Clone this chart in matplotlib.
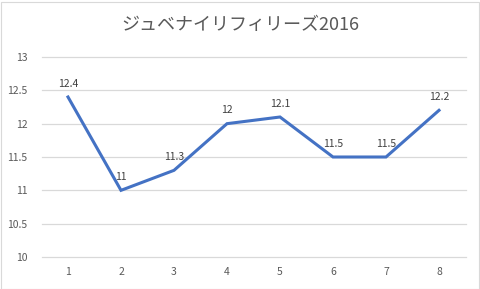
import matplotlib.pyplot as plt
from matplotlib.patches import Rectangle

plt.rcParams['font.family'] = ['Noto Sans CJK JP', 'DejaVu Sans']

categories = ['1', '2', '3', '4', '5', '6', '7', '8']
values = [12.4, 11, 11.3, 12, 12.1, 11.5, 11.5, 12.2]
labels = ['12.4', '11', '11.3', '12', '12.1', '11.5', '11.5', '12.2']
yticks = [10, 10.5, 11, 11.5, 12, 12.5, 13]
title = 'ジュベナイリフィリーズ2016'

text_color = '#595959'
line_color = '#4472C4'
grid_color = '#D9D9D9'

fig = plt.figure(figsize=(4.81, 2.89), dpi=100)
W, H = 481, 289
ax = fig.add_axes([41.5 / W, 1 - 257 / H, (465.5 - 41.5) / W, 200 / H])

x = list(range(len(categories)))
ax.plot(x, values, color=line_color, linewidth=2.2, solid_joinstyle='miter', zorder=3)

for xi, v, lab in zip(x, values, labels):
    ax.annotate(lab, (xi, v), xytext=(0, 6), textcoords='offset points',
                ha='center', va='bottom', fontsize=7.5, color='#404040')

ax.set_xlim(-0.5, len(categories) - 0.5)
ax.set_ylim(10, 13)
ax.set_xticks(x)
ax.set_xticklabels(categories)
ax.set_yticks(yticks)
ax.set_yticklabels([f'{t:g}' for t in yticks])
ax.tick_params(axis='both', length=0, labelsize=7.5, labelcolor=text_color)
ax.tick_params(axis='x', pad=7)
ax.tick_params(axis='y', pad=10)
ax.grid(axis='y', color=grid_color, linewidth=0.9)
for gl in ax.get_ygridlines():
    gl.set_clip_on(False)
ax.set_axisbelow(True)
for s in ax.spines.values():
    s.set_visible(False)

fig.text(0.5, 1 - 25 / H, title, ha='center', va='center', fontsize=13, color=text_color)
fig.patches.append(Rectangle((0.5 / W, 0.5 / H), 1 - 2 / W, 1 - 2 / H, transform=fig.transFigure,
                             fill=False, edgecolor=grid_color, linewidth=0.8))

fig.savefig('out.png', dpi=100)
